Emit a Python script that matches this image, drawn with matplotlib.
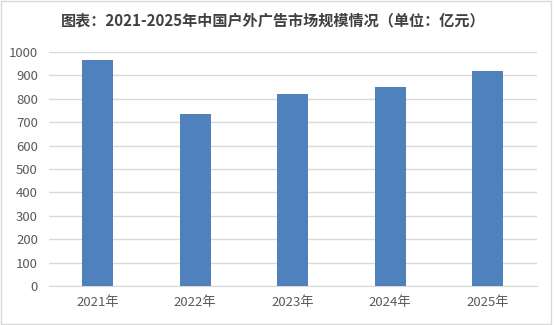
import matplotlib.pyplot as plt
import numpy as np

plt.rcParams['font.family'] = ['Noto Sans CJK SC', 'DejaVu Sans']

# data
years = ['2021年', '2022年', '2023年', '2024年', '2025年']
values = [967, 736, 822, 852, 917]
title = '图表：2021-2025年中国户外广告市场规模情况（单位：亿元）'

fig = plt.figure(figsize=(5.54, 3.25), dpi=100)
ax = fig.add_axes([0.0885, 0.12, 0.88, 0.72])

x = np.arange(len(years))
ax.bar(x, values, width=0.32, color='#4f81bd', zorder=3)

ax.set_xlim(-0.5, len(years) - 0.5)
ax.set_ylim(0, 1000)
ax.set_yticks(np.arange(0, 1001, 100))
ax.set_xticks(x)
ax.set_xticklabels(years)
ax.tick_params(axis='both', length=0, colors='#595959', labelsize=9.5)
ax.tick_params(axis='y', pad=8)
ax.tick_params(axis='x', pad=7)
ax.grid(axis='y', color='#d9d9d9', linewidth=1, zorder=0)
for s in ['left', 'right', 'top']:
    ax.spines[s].set_visible(False)
ax.spines['bottom'].set_color('#d9d9d9')

fig.text(0.493, 0.937, title, ha='center', va='center', fontsize=10.9,
         fontweight='bold', color='#404040')

# outer frame
fig.patches.append(plt.Rectangle((0.002, 0.003), 0.993, 0.994, transform=fig.transFigure,
                                 fill=False, edgecolor='#d9d9d9', linewidth=1))

fig.savefig('out.png', dpi=100)
